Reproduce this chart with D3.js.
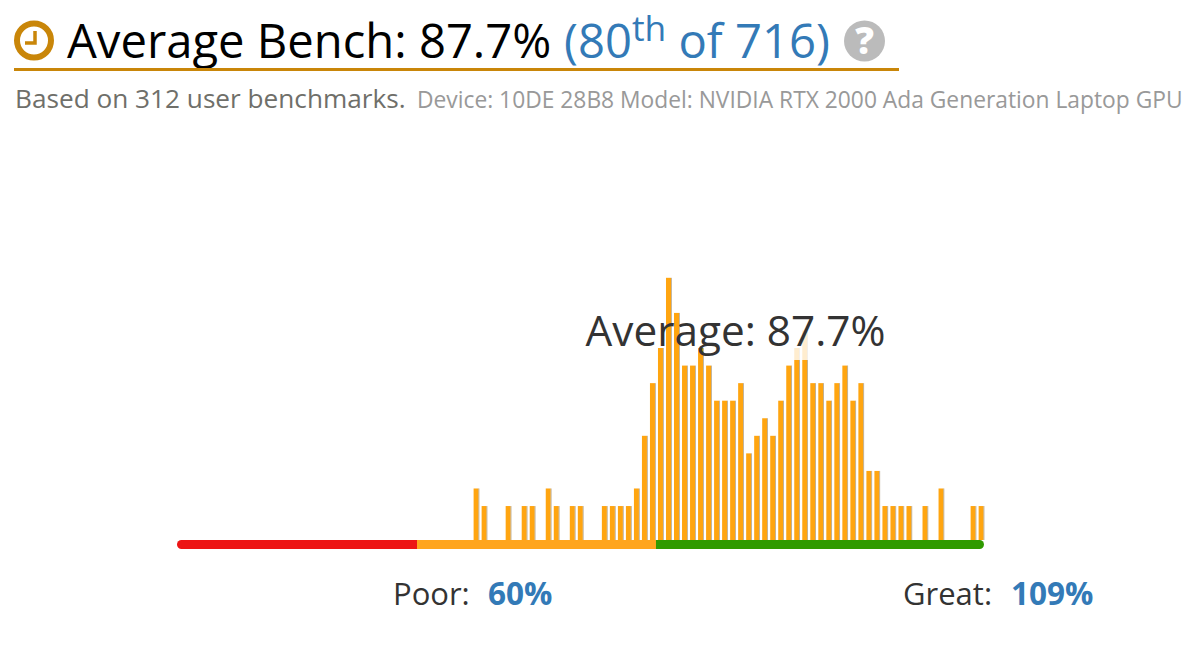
<!DOCTYPE html>
<html><head><meta charset="utf-8">
<script src="https://cdn.jsdelivr.net/npm/d3@7"></script>
<style>html,body{margin:0;padding:0;background:#fff;overflow:hidden}svg{display:block}text{font-family:"Open Sans",sans-serif}</style>
</head><body><svg id="c" width="1198" height="652"></svg>
<script>
const firstBin = 37;
const counts = [2,1,0,0,1,0,1,1,0,2,1,0,1,1,0,0,1,1,1,1,2,5,8,10,14,12,9,9,10,9,7,7,7,8,4,5,6,5,7,9,10,11,8,8,7,8,9,7,8,3,3,1,1,1,1,0,1,0,2,0,0,0,1,1];
const segments = [
  {from:0,to:29.94,color:"#ed1515"},
  {from:29.94,to:59.75,color:"#ffa51e"},
  {from:59.75,to:100.67,color:"#2f9a00"}
];
const titleText = "Average Bench: 87.7%";
const rankParts = ["(80","th"," of 716)"];
const svg = d3.select("#c");
const x = d3.scaleLinear().domain([0,100.67]).range([177,984]);
const y = d3.scaleLinear().domain([0,14]).range([523.6,277.8]);
const baseY = 540, barW = 5, axisH = 9;

// header
const gold="#c98609";
svg.append("circle").attr("cx",34).attr("cy",40.5).attr("r",17).attr("fill","none").attr("stroke",gold).attr("stroke-width",6);
svg.append("path").attr("d","M35 31V43H25").attr("fill","none").attr("stroke",gold).attr("stroke-width",3.5);
svg.append("text").attr("x",67).attr("y",58).attr("font-size",47.2).attr("fill","#000").text(titleText);
const r = svg.append("text").attr("x",564).attr("y",58).attr("font-size",47.2).attr("fill","#337ab7");
r.append("tspan").text(rankParts[0]);
r.append("tspan").attr("dy",-17).attr("font-size",35.4).text(rankParts[1]);
r.append("tspan").attr("dy",17).text(rankParts[2]);
svg.append("circle").attr("cx",864.5).attr("cy",41).attr("r",20.5).attr("fill","#bbb");
svg.append("text").attr("x",864.5).attr("y",54).attr("text-anchor","middle").attr("font-size",37).attr("font-weight",800).attr("fill","#fff").text("?");
svg.append("rect").attr("x",14).attr("y",68).attr("width",885).attr("height",3).attr("fill",gold);
svg.append("text").attr("x",15).attr("y",107.5).attr("font-size",26.2).attr("fill","#6f6f6a").text("Based on 312 user benchmarks.");
svg.append("text").attr("x",417).attr("y",107.5).attr("font-size",22.8).attr("fill","#999").text("Device: 10DE 28B8 Model: NVIDIA RTX 2000 Ada Generation Laptop GPU");

// axis segments
const clipId="axisClip";
svg.append("clipPath").attr("id",clipId).append("rect").attr("x",x(0)).attr("y",baseY).attr("width",x(100.67)-x(0)).attr("height",axisH).attr("rx",4.5);
svg.append("g").attr("clip-path",`url(#${clipId})`).selectAll("rect").data(segments).join("rect")
  .attr("x",d=>x(d.from)).attr("width",d=>x(d.to)-x(d.from)).attr("y",baseY).attr("height",axisH).attr("fill",d=>d.color);

// bars, each with the thin grey right edge seen in the reference
const barData = counts.map((c,i)=>({c,bin:firstBin+i})).filter(d=>d.c>0);
svg.append("g").selectAll("rect").data(barData).join("rect")
  .attr("x",d=>x(d.bin)).attr("width",barW).attr("y",d=>y(d.c)).attr("height",d=>baseY-y(d.c)).attr("fill","#ffa510");
svg.append("g").selectAll("rect").data(barData).join("rect")
  .attr("x",d=>x(d.bin)+barW).attr("width",0.7).attr("y",d=>y(d.c)).attr("height",d=>baseY-y(d.c)).attr("fill","#a89a80");

// label
svg.append("rect").attr("x",786).attr("y",310).attr("width",100).attr("height",50).attr("fill","#fff").attr("opacity",0.8);
svg.append("text").attr("x",735.5).attr("y",346).attr("text-anchor","middle").attr("font-size",42.3).attr("fill","#333").text("Average: 87.7%");

// footer
const foot=(x0,lab,x1,val)=>{
  svg.append("text").attr("x",x0).attr("y",605).attr("font-size",31).attr("fill","#333").text(lab);
  svg.append("text").attr("x",x1).attr("y",605).attr("font-size",31.5).attr("font-weight",700).attr("fill","#337ab7").text(val);
};
foot(393,"Poor:",488,"60%");
foot(903,"Great:",1011,"109%");
</script></body></html>
